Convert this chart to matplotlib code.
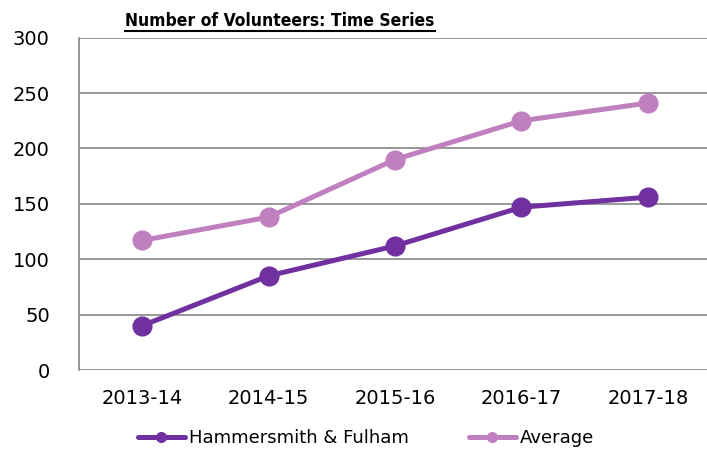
import matplotlib
matplotlib.use("Agg")
import matplotlib.pyplot as plt
from matplotlib.lines import Line2D

years = ["2013-14", "2014-15", "2015-16", "2016-17", "2017-18"]
hammersmith = [40, 85, 112, 147, 156]
average = [117, 138, 190, 225, 241]
y_ticks = [0, 50, 100, 150, 200, 250, 300]

plt.rcParams['font.family'] = ['DejaVu Sans']

W, H = 707, 449
fig = plt.figure(figsize=(W / 100, H / 100), dpi=100)
ax = fig.add_axes([79 / W, 1 - 370 / H, 632 / W, (370 - 37.7) / H])

x = list(range(len(years)))
ax.plot(x, hammersmith, color="#7030A0", lw=3.6, marker="o", ms=13.5,
        label="Hammersmith & Fulham", solid_capstyle="round", zorder=4)
ax.plot(x, average, color="#C080C0", lw=3.6, marker="o", ms=13.5,
        label="Average", solid_capstyle="round", zorder=3)

ax.set_xlim(-0.5, len(years) - 0.5)
ax.set_ylim(0, 300)
ax.set_yticks(y_ticks)
ax.set_xticks(x)
ax.set_xticklabels(years)
ax.tick_params(axis="both", length=0, labelsize=14, colors="black")
ax.tick_params(axis="y", pad=21)
ax.tick_params(axis="x", pad=14)
ax.yaxis.grid(True, color="#868686", lw=1.2)
ax.set_axisbelow(True)
for s in ["top", "right", "bottom"]:
    ax.spines[s].set_visible(False)
ax.spines["left"].set_color("#868686")
ax.spines["left"].set_linewidth(1.2)

leg = fig.legend(loc="center", bbox_to_anchor=(366 / W, 1 - 438 / H), ncol=2,
                 frameon=False, fontsize=13, handlelength=2.6,
                 handletextpad=0.25, columnspacing=3.3, borderpad=0)
for ln in leg.get_lines():
    ln.set_markersize(7)

# title with underline
title = fig.text(280 / W, 1 - 21 / H, "Number of Volunteers: Time Series",
                 ha="center", va="center", fontsize=12.5, fontweight="bold",
                 fontstretch="condensed")
fig.canvas.draw()
bb = title.get_window_extent().transformed(fig.transFigure.inverted())
uy = bb.y0 - 1.0 / H
fig.add_artist(Line2D([bb.x0, bb.x1], [uy, uy], color="black", lw=1.5,
                      transform=fig.transFigure))

fig.savefig("out.png", dpi=100)
